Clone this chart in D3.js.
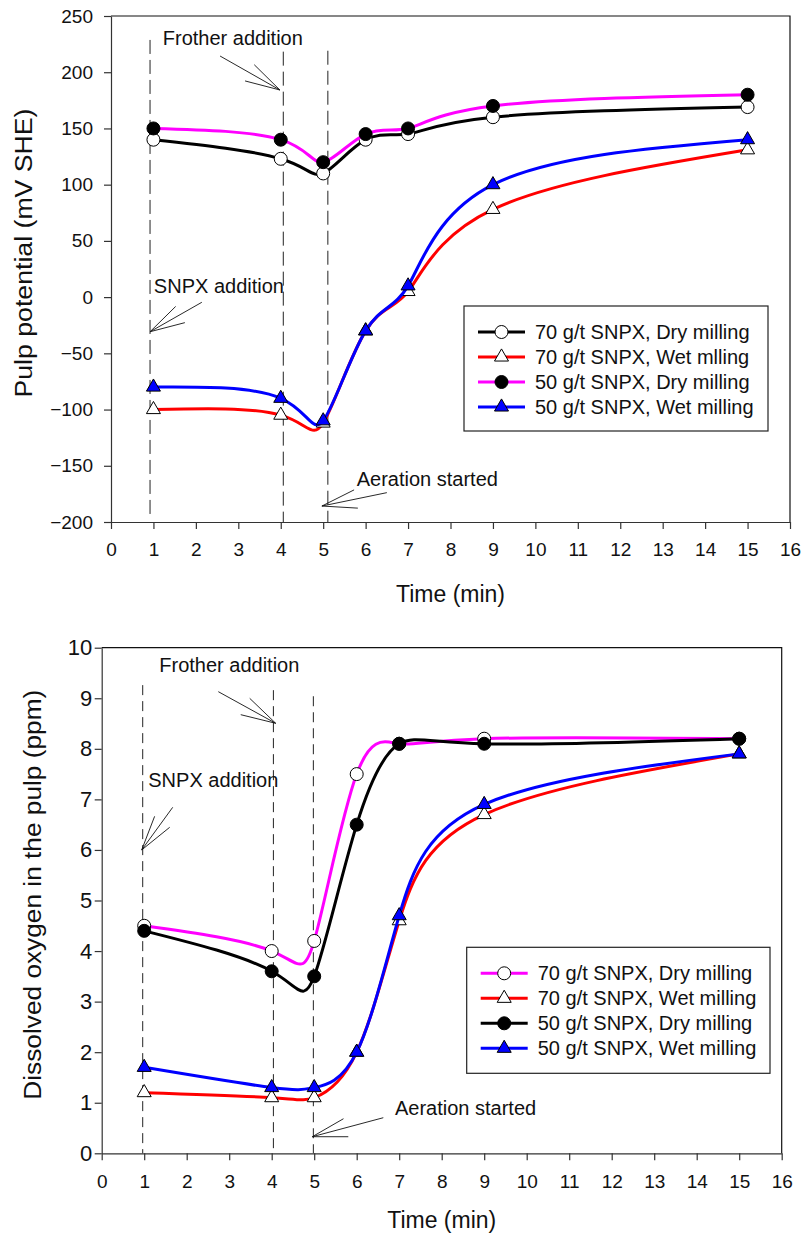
<!DOCTYPE html>
<html>
<head>
<meta charset="utf-8">
<script src="https://cdn.jsdelivr.net/npm/d3@7/dist/d3.min.js"></script>
<style>
  body { margin: 0; background: #fff; }
  svg { display: block; font-family: "Liberation Sans", Arial, sans-serif; }
</style>
</head>
<body>
<svg id="chart" width="803" height="1237"></svg>
<script>
// sampling times (min), shared by both panels
const times = [1, 4, 5, 6, 7, 9, 15];
const xTicks = [0, 1, 2, 3, 4, 5, 6, 7, 8, 9, 10, 11, 12, 13, 14, 15, 16];

// pulp potential (mV SHE)
const potentialTicks = [-200, -150, -100, -50, 0, 50, 100, 150, 200, 250];
const potential70Dry = [140, 123, 110, 140, 145, 160, 169];
const potential70Wet = [-100, -105, -112, -30, 5, 78, 131];
const potential50Dry = [150, 140, 120, 145, 150, 170, 180];
const potential50Wet = [-80, -90, -110, -30, 10, 100, 140];
const potentialLegend = ['70 g/t SNPX, Dry milling', '70 g/t SNPX, Wet mlling', '50 g/t SNPX, Dry milling', '50 g/t SNPX, Wet milling'];

// dissolved oxygen (ppm)
const oxygenTicks = [0, 1, 2, 3, 4, 5, 6, 7, 8, 9, 10];
const oxygen70Dry = [4.5, 4.0, 4.2, 7.5, 8.1, 8.2, 8.2];
const oxygen70Wet = [1.2, 1.1, 1.1, 2.0, 4.6, 6.7, 7.9];
const oxygen50Dry = [4.4, 3.6, 3.5, 6.5, 8.1, 8.1, 8.2];
const oxygen50Wet = [1.7, 1.3, 1.3, 2.0, 4.7, 6.9, 7.9];
const oxygenLegend = ['70 g/t SNPX, Dry milling', '70 g/t SNPX, Wet milling', '50 g/t SNPX, Dry milling', '50 g/t SNPX, Wet milling'];

// annotations, in data units (time, value)
const potentialNotes = [
  { text: 'Frother addition', at: [1.22, 224], from: [2.57, 214.4], to: [3.98, 184.2] },
  { text: 'SNPX addition', at: [1.01, 3.7], from: [2.14, -4.6], to: [0.92, -30.8] },
  { text: 'Aeration started', at: [5.79, -167.7], from: [6.50, -173.9], to: [4.97, -185.8] }
];
const potentialMarks = [[0.92, 228.7, -194], [4.06, 218.3, -200], [5.11, 219.1, -200]];
const oxygenNotes = [
  { text: 'Frother addition', at: [1.355, 9.525], from: [2.744, 9.13], to: [4.094, 8.505] },
  { text: 'SNPX addition', at: [1.096, 7.24], from: [1.671, 6.843], to: [0.941, 6.0] },
  { text: 'Aeration started', at: [6.90, 0.757], from: [6.626, 0.704], to: [4.955, 0.328] }
];
const oxygenMarks = [[0.965, 9.26, 0], [4.04, 9.16, 0], [4.98, 9.04, 0]];

const svg = d3.select('#chart');

function drawPanel(cfg) {
  const g = svg.append('g').attr('transform', `translate(${cfg.left},${cfg.top})`);
  const x = d3.scaleLinear().domain([0, 16]).range([0, cfg.width]);
  const y = d3.scaleLinear().domain(cfg.yDomain).range([cfg.height, 0]);

  // frame (top + right)
  g.append('path')
    .attr('d', `M0,0H${cfg.width}V${cfg.height}`)
    .attr('fill', 'none').attr('stroke', '#111').attr('stroke-width', 1.2);

  // axes
  const xAxis = g.append('g')
    .attr('transform', `translate(0,${cfg.height})`)
    .call(d3.axisBottom(x).tickValues(xTicks).tickSize(7).tickSizeOuter(0).tickPadding(14));
  const yAxis = g.append('g')
    .call(d3.axisLeft(y).tickValues(cfg.yTicks).tickSize(7).tickSizeOuter(0).tickPadding(cfg.yPad));
  [xAxis, yAxis].forEach(a => {
    a.attr('font-family', null).attr('font-size', null);
    a.selectAll('path,line').attr('stroke', '#333').attr('stroke-width', 1.2);
    a.selectAll('text').attr('font-size', 19).attr('fill', '#111');
  });
  yAxis.selectAll('text').attr('font-size', cfg.yFont);

  // axis titles
  g.append('text')
    .attr('x', cfg.width / 2).attr('y', cfg.xTitleY)
    .attr('text-anchor', 'middle').attr('font-size', 23).attr('fill', '#111')
    .text('Time (min)');
  g.append('text')
    .attr('transform', `translate(${cfg.yTitleX},${cfg.yTitleY}) rotate(-90)`)
    .attr('text-anchor', 'middle').attr('font-size', 23).attr('fill', '#111')
    .attr('textLength', cfg.yTitleLen).attr('lengthAdjust', 'spacingAndGlyphs')
    .text(cfg.yTitle);

  // dashed event lines
  g.selectAll('.event')
    .data(cfg.marks)
    .enter().append('line')
    .attr('x1', d => x(d[0])).attr('x2', d => x(d[0]))
    .attr('y1', d => y(d[1])).attr('y2', d => y(d[2]))
    .attr('stroke', '#222').attr('stroke-width', 1)
    .attr('stroke-dasharray', cfg.dash);

  // annotation text + open arrows
  cfg.notes.forEach(n => {
    g.append('text')
      .attr('x', x(n.at[0])).attr('y', y(n.at[1]))
      .attr('font-size', 20).attr('fill', '#111')
      .text(n.text);
    const tx = x(n.to[0]), ty = y(n.to[1]);
    const fx = x(n.from[0]), fy = y(n.from[1]);
    const ang = Math.atan2(fy - ty, fx - tx);
    const head = 36, spread = 15 * Math.PI / 180;
    let d = `M${fx},${fy}L${tx},${ty}`;
    [-spread, spread].forEach(s => {
      d += `M${tx},${ty}L${tx + head * Math.cos(ang + s)},${ty + head * Math.sin(ang + s)}`;
    });
    g.append('path').attr('d', d).attr('fill', 'none').attr('stroke', '#111').attr('stroke-width', 0.9);
  });

  // series
  const line = d3.line()
    .x((d, i) => x(times[i]))
    .y(d => y(d))
    .curve(d3.curveNatural);
  const tri = d3.symbol().type(d3.symbolTriangle).size(85);

  function marker(sel, s) {
    if (s.shape === 'circle') {
      sel.append('circle').attr('r', 6.5)
        .attr('fill', s.fill).attr('stroke', '#000').attr('stroke-width', 1);
    } else {
      sel.append('path').attr('d', tri)
        .attr('fill', s.fill).attr('stroke', '#000').attr('stroke-width', 1);
    }
  }

  cfg.series.forEach(s => {
    g.append('path')
      .datum(s.values)
      .attr('fill', 'none')
      .attr('stroke', s.color)
      .attr('stroke-width', 3)
      .attr('d', line);
    g.selectAll(null)
      .data(s.values)
      .enter().append('g')
      .attr('transform', (d, i) => `translate(${x(times[i])},${y(d)})`)
      .each(function () { marker(d3.select(this), s); });
  });

  // legend
  const lg = g.append('g').attr('transform', `translate(${cfg.legend.x},${cfg.legend.y})`);
  lg.append('rect')
    .attr('width', cfg.legend.w).attr('height', cfg.legend.h)
    .attr('fill', '#fff').attr('stroke', '#222').attr('stroke-width', 1.2);
  cfg.series.forEach((s, i) => {
    const row = lg.append('g').attr('transform', `translate(14,${26 + i * 25})`);
    row.append('line').attr('x1', 0).attr('x2', 47)
      .attr('stroke', s.color).attr('stroke-width', 3);
    const m = row.append('g').attr('transform', 'translate(23.5,0)');
    marker(m, s);
    row.append('text')
      .attr('x', 57).attr('y', 7)
      .attr('font-size', 20).attr('fill', '#111')
      .text(cfg.legendLabels[i]);
  });
}

drawPanel({
  left: 111, top: 16, width: 679, height: 506,
  yDomain: [-200, 250], yTicks: potentialTicks, yPad: 11, yFont: 19,
  xTitleY: 586, yTitleX: -79, yTitleY: 237, yTitleLen: 289,
  yTitle: 'Pulp potential (mV SHE)',
  dash: '14,6',
  marks: potentialMarks, notes: potentialNotes,
  series: [
    { values: potential70Dry, color: '#000000', shape: 'circle', fill: '#fff' },
    { values: potential70Wet, color: '#ff0000', shape: 'triangle', fill: '#fff' },
    { values: potential50Dry, color: '#ff00ff', shape: 'circle', fill: '#000' },
    { values: potential50Wet, color: '#0000ff', shape: 'triangle', fill: '#0000ff' }
  ],
  legendLabels: potentialLegend,
  legend: { x: 353, y: 290, w: 304, h: 125 }
});

drawPanel({
  left: 101.7, top: 647.7, width: 680, height: 505.6,
  yDomain: [0, 10], yTicks: oxygenTicks, yPad: 2.5, yFont: 22,
  xTitleY: 580, yTitleX: -60.7, yTitleY: 247, yTitleLen: 410,
  yTitle: 'Dissolved oxygen in the pulp (ppm)',
  dash: '10,6',
  marks: oxygenMarks, notes: oxygenNotes,
  series: [
    { values: oxygen70Dry, color: '#ff00ff', shape: 'circle', fill: '#fff' },
    { values: oxygen70Wet, color: '#ff0000', shape: 'triangle', fill: '#fff' },
    { values: oxygen50Dry, color: '#000000', shape: 'circle', fill: '#000' },
    { values: oxygen50Wet, color: '#0000ff', shape: 'triangle', fill: '#0000ff' }
  ],
  legendLabels: oxygenLegend,
  legend: { x: 365, y: 299.6, w: 303.3, h: 126 }
});
</script>
</body>
</html>
